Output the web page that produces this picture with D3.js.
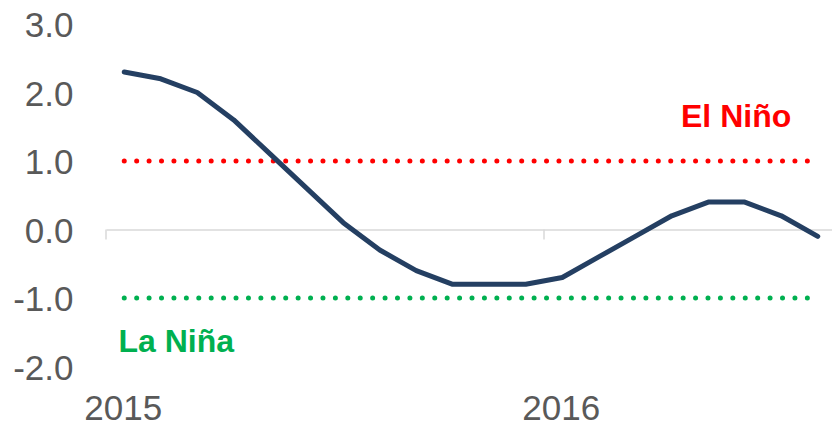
<!DOCTYPE html>
<html>
<head>
<meta charset="utf-8">
<script src="https://cdn.jsdelivr.net/npm/d3@7/dist/d3.min.js"></script>
<style>
  html, body { margin: 0; padding: 0; background: #fff; }
  svg { display: block; font-family: Arial, "Liberation Sans", sans-serif; }
</style>
</head>
<body>
<svg id="chart" width="832" height="427"></svg>
<script>
// ---- data ----
const categories = ["2015-01","2015-02","2015-03","2015-04","2015-05","2015-06","2015-07","2015-08","2015-09","2015-10","2015-11","2015-12",
                    "2016-01","2016-02","2016-03","2016-04","2016-05","2016-06","2016-07","2016-08"];
const oniValues = [2.3, 2.2, 2.0, 1.6, 1.1, 0.6, 0.1, -0.3, -0.6, -0.8, -0.8, -0.8, -0.7, -0.4, -0.1, 0.2, 0.4, 0.4, 0.2, -0.1];
const elNinoThreshold = 1.0;
const laNinaThreshold = -1.0;
const yTicks = [3.0, 2.0, 1.0, 0.0, -1.0, -2.0];
const xTickLabels = [{cat: "2015-01", label: "2015"}, {cat: "2016-01", label: "2016"}];
const annotations = [{text: "El Niño", color: "#FF0000"},
                     {text: "La Niña", color: "#00B050"}];

// ---- layout ----
const svg = d3.select("#chart");
const x = d3.scaleBand().domain(categories).range([106, 836]).padding(0);
const y = d3.scaleLinear().domain([-2, 3]).range([366.5, 24]);
const cx = c => x(c) + x.bandwidth() / 2;

// y-axis labels (no axis line)
const fmt = d => d3.format(".1f")(d).replace("\u2212", "-");
const yAxis = d3.axisLeft(y).tickValues(yTicks).tickFormat(fmt).tickSize(0).tickPadding(0);
const gy = svg.append("g").attr("transform", "translate(73.5,0)").call(yAxis);
gy.select(".domain").remove();
gy.selectAll("text")
  .attr("font-size", 35).attr("font-family", "Arial, 'Liberation Sans', sans-serif")
  .attr("fill", "#595959").attr("dy", "0.36em");

// x-axis at y=0
const xAxis = d3.axisBottom(x).tickValues([]).tickSize(0);
const gx = svg.append("g").attr("transform", `translate(0,${y(0)})`).call(xAxis);
gx.select(".domain").attr("stroke", "#D9D9D9").attr("stroke-width", 1.5);
// tick marks between categories every 12
[0, 12].forEach(i => {
  const xx = x(categories[i]);
  gx.append("line").attr("x1", xx).attr("x2", xx).attr("y1", 0).attr("y2", 10)
    .attr("stroke", "#D9D9D9").attr("stroke-width", 1.5);
});
// x labels at bottom
svg.append("g").selectAll("text").data(xTickLabels).join("text")
  .attr("x", d => cx(d.cat) - 1).attr("y", 420)
  .attr("text-anchor", "middle").attr("font-size", 35).attr("fill", "#595959")
  .text(d => d.label);

// threshold dotted lines
const flatLine = v => d3.line().x(c => cx(c)).y(() => y(v))(categories);
svg.append("path").attr("d", flatLine(elNinoThreshold))
  .attr("fill", "none").attr("stroke", "#FF0000").attr("stroke-width", 5)
  .attr("stroke-linecap", "round").attr("stroke-dasharray", "0 12.42");
svg.append("path").attr("d", flatLine(laNinaThreshold))
  .attr("fill", "none").attr("stroke", "#00B050").attr("stroke-width", 5)
  .attr("stroke-linecap", "round").attr("stroke-dasharray", "0 12.42");

// main line
const line = d3.line().x((d, i) => cx(categories[i])).y(d => y(d));
svg.append("path").datum(oniValues).attr("d", line)
  .attr("fill", "none").attr("stroke", "#243F62").attr("stroke-width", 5)
  .attr("stroke-linecap", "round").attr("stroke-linejoin", "round");

// annotations
svg.append("text").attr("x", 681).attr("y", 127)
  .attr("font-size", 32).attr("font-weight", "bold").attr("fill", annotations[0].color)
  .text(annotations[0].text);
svg.append("text").attr("x", 118.5).attr("y", 351.7)
  .attr("font-size", 32).attr("font-weight", "bold").attr("fill", annotations[1].color)
  .text(annotations[1].text);
</script>
</body>
</html>
